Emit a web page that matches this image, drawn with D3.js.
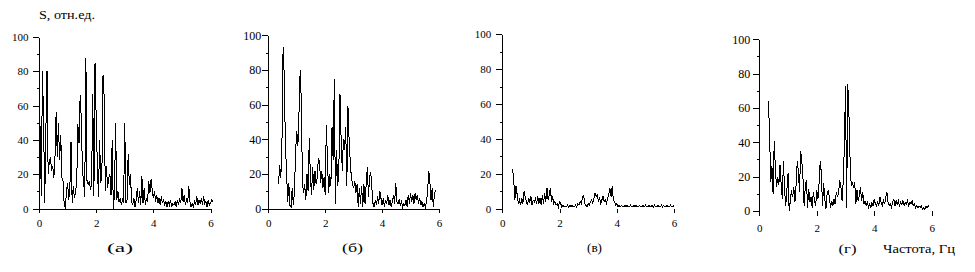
<!DOCTYPE html>
<html><head><meta charset="utf-8">
<script src="https://cdn.jsdelivr.net/npm/d3@7"></script>
<style>
body{margin:0;background:#fff}
svg{display:block}
svg text{font-family:"Liberation Serif","DejaVu Serif","Times New Roman",serif !important;fill:#000}
</style>
</head><body><svg id="chart" width="975" height="272"></svg>
<script>
// ---- data ----
const freqStep = 0.04;               // Hz between spectrum samples
const startA = 0, startB = 0.36, startC = 0.36, startD = 0.32; // first frequency of each spectrum
const valuesA = [30,48,7,80,52,3,45,80,20,27,
  30,22,25,18,30,56,30,50,28,43,
  18,16,3,0,10,15,5,12,39,3,
  13,6,10,15,49,38,66,52,22,16,
  7,88,16,14,16,11,14,67,7,85,
  53,26,7,40,15,20,78,65,10,25,
  12,18,20,8,40,0,8,50,5,10,
  4,6,2,5,3,50,3,5,32,14,
  20,4,2,6,1,5,12,3,10,2,
  19,3,12,2,6,4,16,9,17,11,
  6,10,4,8,3,6,2,7,3,5,
  2,4,1,4,2,5,1,3,2,4,
  1,5,2,6,3,12,4,8,2,5,
  3,13,4,1,3,1,4,2,7,2,
  5,3,6,2,7,3,4,1,5,2,
  3,5,4];
const valuesB = [14,25,18,38,93,77,38,22,4,15,
  2,1,12,2,10,33,45,36,56,80,
  62,15,9,14,5,20,10,41,18,8,
  24,11,22,14,18,29,27,15,22,12,
  18,8,48,28,9,20,13,47,28,75,
  3,34,13,22,66,40,22,40,34,47,
  13,59,40,27,18,14,12,16,9,14,
  1,12,3,13,1,14,3,14,24,7,
  18,21,12,3,1,5,2,7,3,10,
  6,2,6,1,5,3,8,2,5,1,
  4,8,3,15,4,3,5,2,4,1,
  3,2,5,1,8,3,9,4,8,3,
  9,5,8,3,6,2,4,1,3,1,
  4,10,22,15,5,12,1,8,11];
const valuesC = [23,16,5,13,8,3,5,2,6,3,
  10,7,4,2,6,4,7,2,5,4,
  6,3,7,3,6,2,8,3,9,4,
  12,5,8,12,4,7,3,4,2,3,
  1,4,3,1,2,1,1,1,2,1,
  2,1,2,1,1,2,1,3,2,4,
  3,6,8,3,2,1,3,2,4,5,
  3,6,9,7,8,4,6,3,5,7,
  4,5,3,6,8,12,7,13,5,4,
  2,3,1,2,1,2,1,1,2,1,
  2,1,1,2,1,1,2,1,2,1,
  1,2,1,1,2,1,2,1,1,2,
  1,1,2,1,2,1,1,2,1,1,
  2,1,2,1,1,2,1,1,2,1,1,2];
const valuesD = [64,42,17,26,10,41,24,14,20,15,
  27,16,7,29,12,3,12,22,0,6,
  12,8,14,5,15,29,23,11,35,29,
  19,3,14,18,2,13,5,8,2,11,
  6,3,12,7,16,29,22,3,16,7,
  1,10,12,8,2,6,3,7,4,11,
  8,11,18,14,6,17,37,73,2,74,
  56,29,15,16,14,17,4,12,6,9,
  14,6,11,4,6,3,5,2,4,2,
  5,3,7,4,3,5,3,8,5,3,
  6,4,8,11,5,3,4,2,5,7,
  3,6,4,6,3,5,4,6,3,5,
  4,6,3,5,4,6,3,4,2,3,
  2,3,2,3,1,2,1,3,2,3,2];
const xTicks = [0, 2, 4, 6];
const yTicks = [0, 20, 40, 60, 80, 100];
const yMinorTicks = [10, 30, 50, 70, 90];
const panelLabels = ["(а)", "(б)", "(в)", "(г)"];
const yAxisTitle = "S, отн.ед.";
const xAxisTitle = "Частота, Гц";

const series = [
  {start: startA, values: valuesA},
  {start: startB, values: valuesB},
  {start: startC, values: valuesC},
  {start: startD, values: valuesD}
];

// ---- layout ----
const FONT = '"Liberation Serif","DejaVu Serif","Times New Roman",serif';
const layout = [
  {x0:39,    x6:210.5, y0:208.5, y100:37,   domain:true,  yPad:4.5, yFont:11, xPad:6.5, xTick:4, labelX:120,   labelW:26, labelY:252},
  {x0:268.3, x6:439,   y0:208.7, y100:35.3, domain:true,  yPad:1,   yFont:12, xPad:6.5, xTick:4, labelX:352.5, labelW:21, labelY:252},
  {x0:502.3, x6:674,   y0:208.7, y100:34.3, domain:false, yPad:5,   yFont:11, xPad:6.5, xTick:4, labelX:594.5, labelW:15, labelY:252},
  {x0:759.3, x6:931.7, y0:211,   y100:39.3, domain:false, yPad:3,   yFont:12, xPad:8.5, xTick:5, labelX:847.5, labelW:18, labelY:253}
];

const svg = d3.select("#chart");
svg.append("rect").attr("width",975).attr("height",272).attr("fill","#fff");

layout.forEach((L, k) => {
  const x = d3.scaleLinear().domain([0, 6]).range([L.x0, L.x6]);
  const y = d3.scaleLinear().domain([0, 100]).range([L.y0, L.y100]);
  const g = svg.append("g");

  // y axis (major)
  const ya = g.append("g").attr("transform", `translate(${L.x0},0)`)
    .call(d3.axisLeft(y).tickValues(yTicks).tickSize(6).tickSizeOuter(0).tickPadding(L.yPad).tickFormat(d3.format("d")));
  ya.attr("font-family", FONT);
  ya.selectAll("text").style("font-size", L.yFont + "px").style("font-family", FONT);
  // y axis minor ticks
  g.append("g").attr("transform", `translate(${L.x0},0)`)
    .call(d3.axisLeft(y).tickValues(yMinorTicks).tickSize(2.5).tickFormat(""))
    .select(".domain").remove();

  // x axis
  const xa = g.append("g").attr("transform", `translate(0,${L.y0})`)
    .call(d3.axisBottom(x).tickValues(xTicks).tickSize(L.xTick).tickSizeOuter(0).tickPadding(L.xPad).tickFormat(d3.format("d")));
  xa.attr("font-family", FONT);
  xa.selectAll("text").style("font-size", "11px").style("font-family", FONT);
  if (!L.domain) xa.select(".domain").remove();

  svg.selectAll(".domain, .tick line").attr("stroke", "#000").attr("shape-rendering", "crispEdges");

  // spectrum line
  const s = series[k];
  const line = d3.line()
    .x((d, i) => x(s.start + i * freqStep))
    .y(d => y(d));
  g.append("path").datum(s.values)
    .attr("d", line)
    .attr("fill", "none")
    .attr("stroke", "#000")
    .attr("stroke-width", 1)
    .attr("shape-rendering", "crispEdges");

  // panel label
  g.append("text").attr("x", L.labelX).attr("y", L.labelY)
    .attr("text-anchor", "middle").style("font-size", "13px").style("font-family", FONT)
    .attr("textLength", L.labelW).attr("lengthAdjust", "spacingAndGlyphs")
    .text(panelLabels[k]);
});

svg.append("text").attr("x", 39).attr("y", 19).style("font-size", "12.5px").style("font-family", FONT)
  .attr("textLength", 56).attr("lengthAdjust", "spacingAndGlyphs").text(yAxisTitle);
svg.append("text").attr("x", 883).attr("y", 253).style("font-size", "13px").style("font-family", FONT)
  .attr("textLength", 72).attr("lengthAdjust", "spacingAndGlyphs").text(xAxisTitle);
</script></body></html>
